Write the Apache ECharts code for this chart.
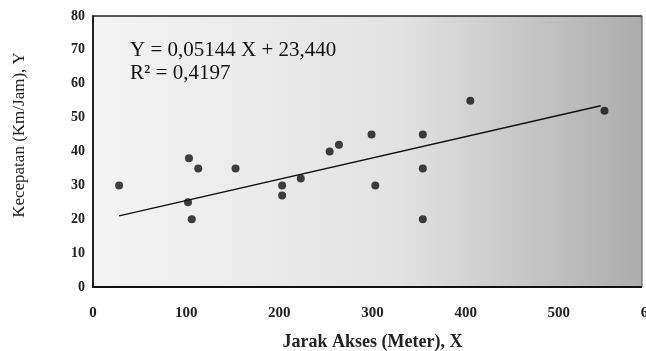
<!DOCTYPE html>
<html>
<head>
<meta charset="utf-8">
<script src="https://cdn.jsdelivr.net/npm/echarts@6/dist/echarts.min.js"></script>
<style>
  html, body { margin: 0; padding: 0; background: #fff; }
  #chart { width: 646px; height: 351px; }
</style>
</head>
<body>
<div id="chart"></div>
<script>
// jarak akses (m) vs kecepatan (km/jam)
const jarakX = [28, 103, 102, 106, 113, 153, 203, 203, 223, 254, 264, 299, 303, 354, 354, 354, 405, 549];
const kecepatanY = [30, 38, 25, 20, 35, 35, 30, 27, 32, 40, 42, 45, 30, 45, 35, 20, 55, 52];
const trendX = [28, 545];
const trendY = [21, 53.5];
const xTicks = [0, 100, 200, 300, 400, 500, 600];
const yTicks = [0, 10, 20, 30, 40, 50, 60, 70, 80];

const serif = '"Liberation Serif", "DejaVu Serif", serif';

const points = jarakX.map((x, i) => [x, kecepatanY[i]]);
const trend = trendX.map((x, i) => [x, trendY[i]]);

const chart = echarts.init(document.getElementById('chart'));

const option = {
  animation: false,
  backgroundColor: '#fff',
  grid: {
    left: 93, top: 16, right: -6, bottom: 64,
    outerBoundsMode: 'none',
    containLabel: false,
    show: true,
    borderColor: '#222',
    borderWidth: 1.5,
    backgroundColor: new echarts.graphic.LinearGradient(0, 0, 1, 0, [
      { offset: 0, color: '#f4f4f4' },
      { offset: 0.55, color: '#e2e2e2' },
      { offset: 1, color: '#aaaaaa' }
    ])
  },
  xAxis: {
    type: 'value',
    min: xTicks[0], max: xTicks[xTicks.length - 1], interval: 100,
    splitLine: { show: false },
    axisTick: { show: false },
    axisLine: { show: true, lineStyle: { color: '#111', width: 2 } },
    axisLabel: {
      margin: 19, color: '#222', fontFamily: serif, fontWeight: 'bold', fontSize: 15,
      showMaxLabel: true
    },
    name: 'Jarak Akses (Meter), X',
    nameLocation: 'middle',
    nameGap: 46,
    nameTextStyle: { fontFamily: serif, fontSize: 18, fontWeight: 'bold', color: '#222' }
  },
  yAxis: {
    type: 'value',
    min: yTicks[0], max: yTicks[yTicks.length - 1], interval: 10,
    splitLine: { show: false },
    axisTick: { show: false },
    axisLine: { show: true, lineStyle: { color: '#111', width: 1.5 } },
    axisLabel: { margin: 8, color: '#222', fontFamily: serif, fontWeight: 'bold', fontSize: 14 },
    name: 'Kecepatan (Km/Jam), Y',
    nameLocation: 'middle',
    nameGap: 65,
    nameTextStyle: { fontFamily: serif, fontSize: 17, color: '#222', padding: [0, 0, 0, 33] }
  },
  series: [
    {
      type: 'line',
      data: trend,
      symbol: 'none',
      lineStyle: { color: '#111', width: 1.5 },
      z: 2
    },
    {
      type: 'scatter',
      data: points,
      symbolSize: 8,
      itemStyle: { color: '#111' },
      z: 3
    }
  ],
  graphic: [
    {
      type: 'rect', z: 5,
      shape: { x: 642, y: 15, width: 4, height: 273 },
      style: { fill: '#fff' }
    },
    {
      type: 'line', z: 6,
      shape: { x1: 642, y1: 16, x2: 642, y2: 287 },
      style: { stroke: '#555', lineWidth: 1 }
    },
    {
      type: 'text', left: 130, top: 40,
      style: { text: 'Y = 0,05144 X + 23,440', font: '21px ' + serif, fill: '#111' }
    },
    {
      type: 'text', left: 130, top: 63,
      style: { text: 'R² = 0,4197', font: '21px ' + serif, fill: '#111' }
    }
  ]
};

chart.setOption(option);
</script>
</body>
</html>
